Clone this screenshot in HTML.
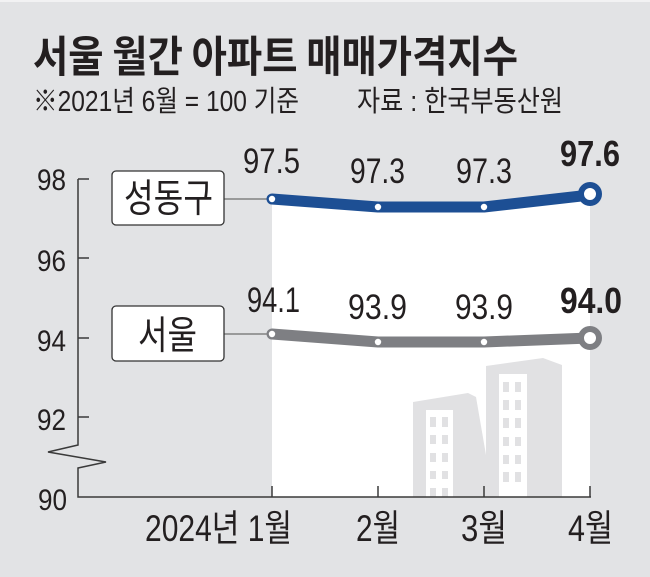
<!DOCTYPE html>
<html>
<head>
<meta charset="utf-8">
<style>
  html,body{margin:0;padding:0;background:#e2e3e5;}
  svg{display:block;}
  .t{font-family:"Liberation Sans","Noto Sans CJK KR",sans-serif;fill:#231f20;}
  .k{font-family:"Noto Sans CJK KR","Liberation Sans",sans-serif;fill:#231f20;}
</style>
</head>
<body>
<svg width="650" height="577" viewBox="0 0 650 577" xmlns="http://www.w3.org/2000/svg">
  <rect x="0" y="0" width="650" height="577" fill="#e2e3e5"/>
  <rect x="0" y="0" width="650" height="2" fill="#f2f2f3"/>

  <!-- Title -->
  <text class="k" x="33" y="72" font-size="43" font-weight="bold" textLength="485" lengthAdjust="spacingAndGlyphs">서울 월간 아파트 매매가격지수</text>
  <text class="t" x="33" y="111" font-size="29" textLength="266" lengthAdjust="spacingAndGlyphs">※2021년 6월 = 100 기준</text>
  <text class="t" x="357" y="111" font-size="29" textLength="206" lengthAdjust="spacingAndGlyphs">자료 : 한국부동산원</text>

  <!-- white plot panel -->
  <polygon points="272,199 378,207 484,207 590,195 590,497 272,497" fill="#ffffff"/>

  <!-- buildings -->
  <g fill="#e1e1e3">
    <polygon points="413,402 468,393 476,397 486,455 486,497 413,497"/>
    <polygon points="486,366 543,358 562,365 562,497 486,497"/>
  </g>
  <g fill="#ffffff">
    <rect x="426" y="410" width="27" height="87"/>
    <rect x="499" y="374" width="28" height="123"/>
  </g>
  <g fill="#e1e1e3">
    <rect x="430" y="417" width="6" height="10"/><rect x="442" y="417" width="6" height="10"/>
    <rect x="430" y="435" width="6" height="9"/><rect x="442" y="435" width="6" height="9"/>
    <rect x="430" y="453" width="6" height="9"/><rect x="442" y="453" width="6" height="9"/>
    <rect x="430" y="471" width="6" height="8"/><rect x="442" y="471" width="6" height="8"/>
    <rect x="430" y="488" width="6" height="9"/><rect x="442" y="488" width="6" height="9"/>

    <rect x="503" y="382" width="6" height="10"/><rect x="515" y="382" width="6" height="10"/>
    <rect x="503" y="400" width="6" height="10"/><rect x="515" y="400" width="6" height="10"/>
    <rect x="503" y="418" width="6" height="10"/><rect x="515" y="418" width="6" height="10"/>
    <rect x="503" y="437" width="6" height="9"/><rect x="515" y="437" width="6" height="9"/>
    <rect x="503" y="455" width="6" height="9"/><rect x="515" y="455" width="6" height="9"/>
    <rect x="503" y="472" width="6" height="10"/><rect x="515" y="472" width="6" height="10"/>
  </g>

  <!-- axes -->
  <g stroke="#3a3a3a" stroke-width="1.5" fill="none">
    <polyline points="78,179 78,445 48,452 106,462 78,468 78,497 591,497"/>
    <line x1="78" y1="179" x2="89" y2="179"/>
    <line x1="78" y1="258" x2="89" y2="258"/>
    <line x1="78" y1="338" x2="89" y2="338"/>
    <line x1="78" y1="417" x2="89" y2="417"/>
    <line x1="272" y1="486" x2="272" y2="497"/>
    <line x1="378" y1="486" x2="378" y2="497"/>
    <line x1="484" y1="486" x2="484" y2="497"/>
    <line x1="590" y1="486" x2="590" y2="497"/>
  </g>

  <!-- y tick labels -->
  <g class="t" font-size="30" text-anchor="end">
    <text x="66" y="190" textLength="29" lengthAdjust="spacingAndGlyphs">98</text>
    <text x="66" y="271" textLength="29" lengthAdjust="spacingAndGlyphs">96</text>
    <text x="66" y="351" textLength="29" lengthAdjust="spacingAndGlyphs">94</text>
    <text x="66" y="430" textLength="29" lengthAdjust="spacingAndGlyphs">92</text>
    <text x="67" y="510" textLength="29" lengthAdjust="spacingAndGlyphs">90</text>
  </g>

  <!-- x labels -->
  <g class="t" font-size="37">
    <text x="145" y="541" textLength="147" lengthAdjust="spacingAndGlyphs">2024년 1월</text>
    <text x="356" y="541" textLength="44" lengthAdjust="spacingAndGlyphs">2월</text>
    <text x="461" y="541" textLength="46" lengthAdjust="spacingAndGlyphs">3월</text>
    <text x="568" y="541" textLength="45" lengthAdjust="spacingAndGlyphs">4월</text>
  </g>

  <!-- connector lines -->
  <g stroke="#6e6e6e" stroke-width="1.2">
    <line x1="224" y1="199" x2="268" y2="199"/>
    <line x1="224" y1="334" x2="268" y2="334"/>
  </g>

  <!-- legend boxes -->
  <rect x="112" y="171" width="112" height="54" rx="4" fill="#ffffff" stroke="#333" stroke-width="1.3"/>
  <text class="k" x="124" y="212" font-size="39" textLength="89" lengthAdjust="spacingAndGlyphs">성동구</text>
  <rect x="112" y="306" width="112" height="55" rx="4" fill="#ffffff" stroke="#333" stroke-width="1.3"/>
  <text class="k" x="138" y="349" font-size="39" textLength="59" lengthAdjust="spacingAndGlyphs">서울</text>

  <!-- 성동구 series -->
  <polyline points="272,199 378,207 484,207 590,195" fill="none" stroke="#1d4f94" stroke-width="11" stroke-linecap="round" stroke-linejoin="round"/>
  <circle cx="272" cy="199" r="3.2" fill="#fff"/>
  <circle cx="378" cy="207" r="3.2" fill="#fff"/>
  <circle cx="484" cy="207" r="3.2" fill="#fff"/>
  <circle cx="590" cy="194" r="9" fill="#fff" stroke="#1d4f94" stroke-width="6"/>

  <!-- 서울 series -->
  <polyline points="272,334 378,342 484,342 590,338" fill="none" stroke="#7e7f83" stroke-width="11" stroke-linecap="round" stroke-linejoin="round"/>
  <circle cx="272" cy="334" r="3.2" fill="#fff"/>
  <circle cx="378" cy="342" r="3.2" fill="#fff"/>
  <circle cx="484" cy="342" r="3.2" fill="#fff"/>
  <circle cx="590" cy="338" r="9" fill="#fff" stroke="#7e7f83" stroke-width="6"/>

  <!-- value labels -->
  <g class="t" font-size="35">
    <text x="243" y="173" textLength="57" lengthAdjust="spacingAndGlyphs">97.5</text>
    <text x="350" y="183" textLength="55" lengthAdjust="spacingAndGlyphs">97.3</text>
    <text x="456" y="183" textLength="56" lengthAdjust="spacingAndGlyphs">97.3</text>
    <text x="247" y="312" textLength="53" lengthAdjust="spacingAndGlyphs">94.1</text>
    <text x="348" y="319" textLength="59" lengthAdjust="spacingAndGlyphs">93.9</text>
    <text x="455" y="319" textLength="58" lengthAdjust="spacingAndGlyphs">93.9</text>
  </g>
  <g class="t" font-size="36" font-weight="bold">
    <text x="560" y="166" textLength="60" lengthAdjust="spacingAndGlyphs">97.6</text>
    <text x="560" y="313" textLength="62" lengthAdjust="spacingAndGlyphs">94.0</text>
  </g>
</svg>
</body>
</html>
